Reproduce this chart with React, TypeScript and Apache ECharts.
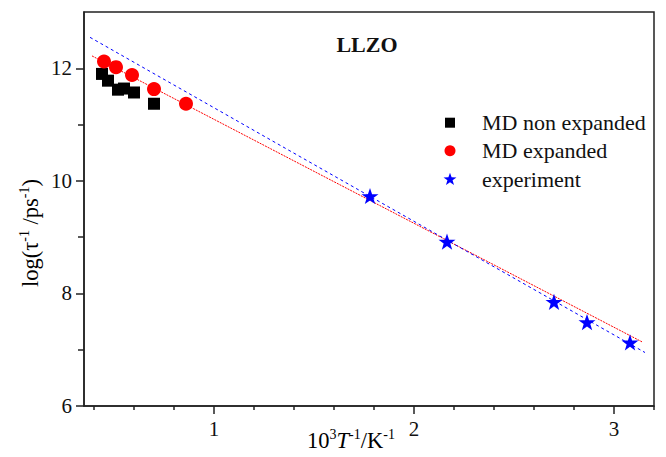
import React, { useEffect, useRef } from "react";
import * as echarts from "echarts";

// Relaxation rates vs inverse temperature for LLZO
const mdNonExpandedX = [0.44, 0.47, 0.52, 0.55, 0.6, 0.7];
const mdNonExpandedY = [11.9, 11.78, 11.62, 11.64, 11.57, 11.37];

const mdExpandedX = [0.45, 0.51, 0.59, 0.7, 0.86];
const mdExpandedY = [12.12, 12.02, 11.88, 11.63, 11.37];

const experimentX = [1.78, 2.165, 2.7, 2.865, 3.08];
const experimentY = [9.73, 8.92, 7.85, 7.49, 7.13];

// Linear fits (end points)
const redFitX = [0.39, 3.14];
const redFitY = [12.22, 7.14];
const blueFitX = [0.38, 3.155];
const blueFitY = [12.55, 6.95];

const xMajorTicks = [1, 2, 3];
const xMinorTicks = [0.4, 0.6, 0.8, 1.2, 1.4, 1.6, 1.8, 2.2, 2.4, 2.6, 2.8, 3.2];
const yMajorTicks = [6, 8, 10, 12];
const yMinorTicks = [7, 9, 11];

const legendNames = ["MD non expanded", "MD expanded", "experiment"];

const FONT = "'Liberation Serif', 'Times New Roman', serif";
const STAR =
  "path://M50,0 L61.8,35.1 L98.1,35.1 L68.8,56.7 L79.4,91 L50,70 L20.6,91 L31.2,56.7 L1.9,35.1 L38.2,35.1 Z";

const zip = (xs: number[], ys: number[]) => xs.map((x, i) => [x, ys[i]]);

// five-pointed star outline around (cx, cy)
const starPoints = (cx: number, cy: number, r: number) => {
  const pts: number[][] = [];
  for (let k = 0; k < 10; k++) {
    const rad = k % 2 === 0 ? r : r * 0.4;
    const a = -Math.PI / 2 + (k * Math.PI) / 5;
    pts.push([cx + rad * Math.cos(a), cy + rad * Math.sin(a)]);
  }
  return pts;
};

const supRich = {
  n: { fontSize: 22.5, fontFamily: FONT, color: "#111", lineHeight: 25 },
  i: { fontSize: 22.5, fontFamily: FONT, color: "#111", fontStyle: "italic", lineHeight: 25 },
  s: { fontSize: 14, fontFamily: FONT, color: "#111", lineHeight: 14, verticalAlign: "top" },
};

export default function App() {
  const ref = useRef<HTMLDivElement>(null);

  useEffect(() => {
    if (!ref.current) return;
    const chart = echarts.init(ref.current, null, { renderer: "svg" });
    const axisColor = "#222";

    const baseX = { type: "value", min: 0.35, max: 3.2, gridIndex: 0, splitLine: { show: false } };
    const baseY = { type: "value", min: 6, max: 13, gridIndex: 0, splitLine: { show: false } };

    // legend block
    const lgX = 450;
    const lgY = [122.7, 150.7, 179];
    const lgTextX = 482;
    const legendGraphics: any[] = [
      { type: "rect", shape: { x: lgX - 5, y: lgY[0] - 5, width: 10, height: 10 }, style: { fill: "#000" } },
      { type: "circle", shape: { cx: lgX, cy: lgY[1], r: 5.5 }, style: { fill: "#ff0000" } },
      { type: "polygon", shape: { points: starPoints(lgX, lgY[2] + 0.5, 6.8) }, style: { fill: "#0000ff" } },
      ...legendNames.map((name, i) => ({
        type: "text",
        x: lgTextX,
        y: lgY[i],
        style: {
          text: name,
          fontSize: 22,
          fontFamily: FONT,
          fill: "#111",
          align: "left",
          verticalAlign: "middle",
        },
      })),
    ];

    chart.setOption({
      animation: false,
      backgroundColor: "#fff",
      textStyle: { fontFamily: FONT },
      grid: {
        left: 84,
        right: 12,
        top: 12,
        bottom: 51,
        show: true,
        borderColor: axisColor,
        borderWidth: 1.5,
      },
      xAxis: [
        {
          ...baseX,
          position: "bottom",
          axisLine: { show: true, onZero: false, lineStyle: { color: axisColor, width: 1.5 } },
          axisTick: { show: true, inside: false, length: 8, customValues: xMajorTicks, lineStyle: { color: axisColor, width: 1.5 } },
          axisLabel: { customValues: xMajorTicks, margin: 12, fontSize: 21, fontFamily: FONT, color: "#111" },
        },
        {
          ...baseX,
          position: "bottom",
          axisLine: { show: false, onZero: false },
          axisTick: { show: true, inside: false, length: 4, customValues: xMinorTicks, lineStyle: { color: axisColor, width: 1.5 } },
          axisLabel: { show: false },
        },
      ],
      yAxis: [
        {
          ...baseY,
          position: "left",
          axisLine: { show: true, onZero: false, lineStyle: { color: axisColor, width: 1.5 } },
          axisTick: { show: true, inside: false, length: 8, customValues: yMajorTicks, lineStyle: { color: axisColor, width: 1.5 } },
          axisLabel: { customValues: yMajorTicks, margin: 12, fontSize: 21, fontFamily: FONT, color: "#111" },
        },
        {
          ...baseY,
          position: "left",
          axisLine: { show: false, onZero: false },
          axisTick: { show: true, inside: false, length: 6, customValues: yMinorTicks, lineStyle: { color: axisColor, width: 1.5 } },
          axisLabel: { show: false },
        },
      ],
      graphic: [
        {
          type: "text",
          x: 367,
          y: 44,
          style: {
            text: "LLZO",
            fontSize: 22,
            fontWeight: "bold",
            fontFamily: FONT,
            fill: "#111",
            align: "center",
            verticalAlign: "middle",
          },
        },
        {
          type: "text",
          x: 351,
          y: 440,
          style: {
            text: "{n|10}{s|3}{i|T}{s|-1}{n|/K}{s|-1}",
            rich: supRich,
            align: "center",
            verticalAlign: "middle",
          },
        },
        {
          type: "text",
          x: 30,
          y: 233,
          rotation: Math.PI / 2,
          style: {
            text: "{n|log(τ}{s|-1}{n| /ps}{s|-1}{n|)}",
            rich: supRich,
            align: "center",
            verticalAlign: "middle",
          },
        },
        ...legendGraphics,
      ],
      series: [
        {
          name: "red fit",
          type: "line",
          data: zip(redFitX, redFitY),
          showSymbol: false,
          symbol: "none",
          lineStyle: { color: "#ff0000", width: 1, type: [2, 1] },
          z: 1,
          silent: true,
        },
        {
          name: "blue fit",
          type: "line",
          data: zip(blueFitX, blueFitY),
          showSymbol: false,
          symbol: "none",
          lineStyle: { color: "#0000ff", width: 1, type: [3, 3] },
          z: 1,
          silent: true,
        },
        {
          name: legendNames[0],
          type: "scatter",
          symbol: "rect",
          symbolSize: 12,
          itemStyle: { color: "#000", opacity: 1 },
          data: zip(mdNonExpandedX, mdNonExpandedY),
          z: 3,
        },
        {
          name: legendNames[1],
          type: "scatter",
          symbol: "circle",
          symbolSize: 14,
          itemStyle: { color: "#ff0000", opacity: 1 },
          data: zip(mdExpandedX, mdExpandedY),
          z: 3,
        },
        {
          name: legendNames[2],
          type: "scatter",
          symbol: STAR,
          symbolKeepAspect: true,
          symbolSize: 17,
          itemStyle: { color: "#0000ff", opacity: 1 },
          data: zip(experimentX, experimentY),
          z: 3,
        },
      ],
    });

    return () => chart.dispose();
  }, []);

  return (
    <div
      ref={ref}
      style={{ position: "fixed", left: 0, top: 0, width: 666, height: 457, background: "#fff" }}
    />
  );
}
